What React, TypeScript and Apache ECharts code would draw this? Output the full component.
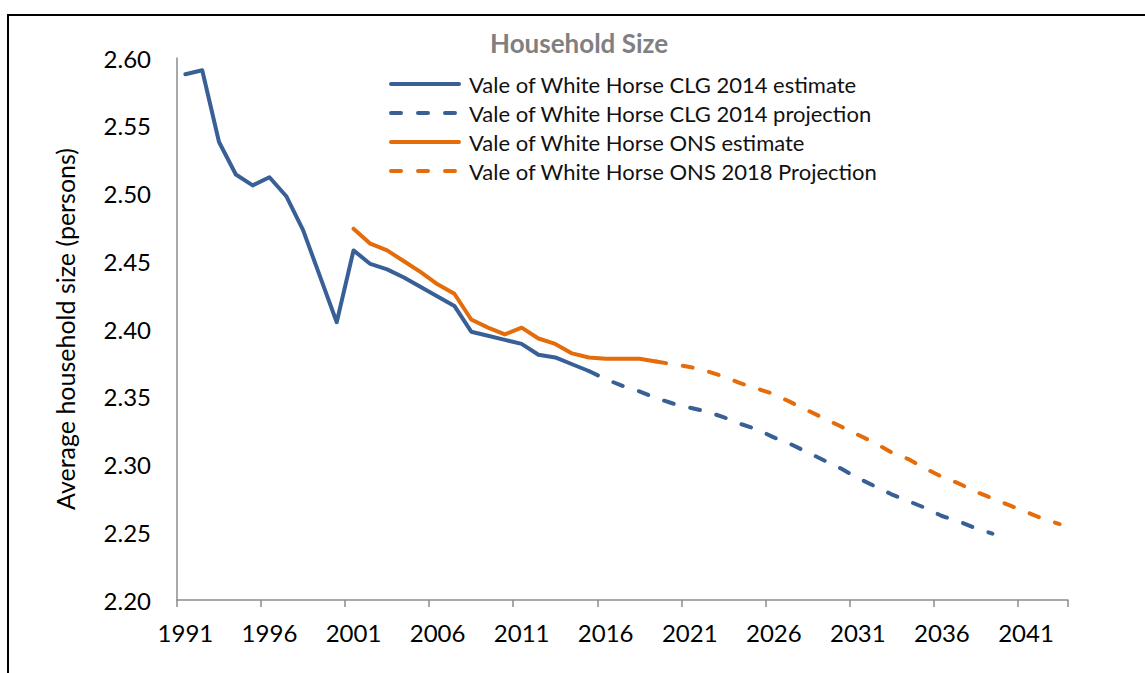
import React, { useEffect, useRef } from "react";
import * as echarts from "echarts";

const years: string[] = [];
for (let y = 1991; y <= 2043; y++) years.push(String(y));

const clgEstimateStart = 1991;
const clgEstimate = [2.588, 2.591, 2.538, 2.514, 2.506, 2.512, 2.498, 2.473, 2.439, 2.405, 2.458, 2.448, 2.444, 2.438, 2.431, 2.424, 2.417, 2.398, 2.395, 2.392, 2.389, 2.381, 2.379, 2.374, 2.369];

const clgProjectionStart = 2015;
const clgProjection = [2.369, 2.363, 2.358, 2.354, 2.349, 2.345, 2.342, 2.339, 2.335, 2.330, 2.326, 2.320, 2.315, 2.309, 2.303, 2.297, 2.290, 2.284, 2.278, 2.273, 2.268, 2.262, 2.258, 2.253, 2.249];

const onsEstimateStart = 2001;
const onsEstimate = [2.474, 2.463, 2.458, 2.450, 2.442, 2.433, 2.426, 2.407, 2.401, 2.396, 2.401, 2.393, 2.389, 2.382, 2.379, 2.378, 2.378, 2.378, 2.376];

const onsProjectionStart = 2019;
const onsProjection = [2.376, 2.374, 2.372, 2.369, 2.365, 2.360, 2.356, 2.352, 2.346, 2.340, 2.334, 2.328, 2.322, 2.316, 2.309, 2.304, 2.297, 2.291, 2.286, 2.280, 2.275, 2.270, 2.265, 2.260, 2.256];

const seriesNames = [
  "Vale of White Horse CLG 2014 estimate",
  "Vale of White Horse CLG 2014 projection",
  "Vale of White Horse ONS estimate",
  "Vale of White Horse ONS 2018 Projection",
];

const BLUE = "#386096";
const ORANGE = "#E46C0A";
const FONT = "Lato";

function pad(values: number[], start: number): (number | null)[] {
  return years.map((y) => {
    const i = Number(y) - start;
    return i >= 0 && i < values.length ? values[i] : null;
  });
}

export default function App() {
  const ref = useRef<HTMLDivElement>(null);
  useEffect(() => {
    document.body.style.margin = "0";
    const chart = echarts.init(ref.current!, undefined, { renderer: "svg" });
    const dash = [10, 17];
    const mk = (name: string, data: (number | null)[], color: string, dashed: boolean) => ({
      name,
      type: "line",
      data,
      symbol: "none",
      connectNulls: false,
      lineStyle: { color, width: 4, type: dashed ? dash : "solid", cap: "round", join: "round" },
      itemStyle: { color },
    });
    chart.setOption({
      animation: false,
      backgroundColor: "#fff",
      textStyle: { fontFamily: FONT },
      title: {
        text: "Household Size",
        left: 485,
        top: 25,
        textStyle: { fontFamily: FONT, fontSize: 26, fontWeight: "bold", color: "#808080" },
      },
      legend: {
        orient: "vertical",
        left: 384,
        top: 68,
        itemWidth: 68,
        itemHeight: 10,
        itemGap: 7,
        data: seriesNames,
        itemStyle: { opacity: 0 },
        lineStyle: { width: 4, cap: "round" },
        textStyle: { fontFamily: FONT, fontSize: 22, lineHeight: 22, color: "#111", padding: [0, 0, 0, 5] },
      },
      graphic: [
        {
          type: "rect",
          shape: { x: 8, y: 15, width: 1300, height: 800 },
          style: { fill: "none", stroke: "#000", lineWidth: 2 },
          silent: true,
        },
      ],
      grid: { left: 177, right: 77, top: 58, bottom: 73 },
      xAxis: {
        type: "category",
        data: years,
        boundaryGap: true,
        axisLine: { lineStyle: { color: "#8c8c8c", width: 1.5 } },
        axisTick: { show: true, interval: 4, length: 7, lineStyle: { color: "#8c8c8c", width: 1.5 } },
        axisLabel: { interval: 4, color: "#000", fontFamily: FONT, fontSize: 24, margin: 20 },
        splitLine: { show: false },
      },
      yAxis: {
        type: "value",
        min: 2.2,
        max: 2.6,
        interval: 0.05,
        name: "Average household size (persons)",
        nameLocation: "middle",
        nameGap: 100,
        nameTextStyle: { fontFamily: FONT, fontSize: 25, color: "#000" },
        axisLine: { show: true, lineStyle: { color: "#8c8c8c", width: 1.5 } },
        axisTick: { show: false },
        axisLabel: {
          color: "#000",
          fontFamily: FONT,
          fontSize: 24,
          margin: 26,
          formatter: (v: number) => v.toFixed(2),
        },
        splitLine: { show: false },
      },
      series: [
        mk(seriesNames[0], pad(clgEstimate, clgEstimateStart), BLUE, false),
        mk(seriesNames[1], pad(clgProjection, clgProjectionStart), BLUE, true),
        mk(seriesNames[2], pad(onsEstimate, onsEstimateStart), ORANGE, false),
        mk(seriesNames[3], pad(onsProjection, onsProjectionStart), ORANGE, true),
      ],
    });
    return () => chart.dispose();
  }, []);
  return <div ref={ref} style={{ width: 1145, height: 673 }} />;
}
